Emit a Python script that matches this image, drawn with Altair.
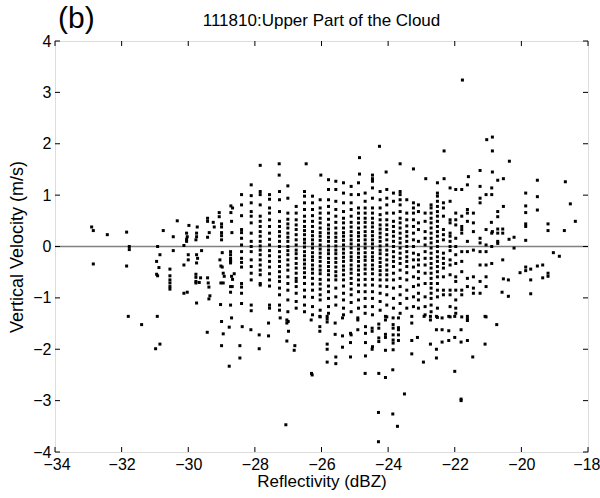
import altair as alt
import pandas as pd

# ---- dense columns of the scatter (reflectivity dBZ -> list of vertical velocities m/s) ----
col_refl = [-28.40, -28.11, -27.84, -27.56, -27.26, -27.01, -26.76, -26.51, -26.27, -26.04,
            -25.79, -25.57, -25.34, -25.11, -24.89, -24.69, -24.47, -24.24, -24.04, -23.84,
            -23.64, -23.44, -23.24, -23.09, -22.89, -22.71, -22.52, -22.34, -22.14, -21.97,
            -21.79, -21.62, -21.44, -21.24, -21.06, -20.89]
col_vel = [
    [1.01, 0.81, 0.60, 0.33, 0.27, 0.16, 0.03, -0.10, -0.23, -0.31, -0.40, -0.72, -0.79, -0.91, -1.11],
    [1.20, 0.99, 0.85, 0.68, 0.59, 0.46, 0.26, 0.10, 0.00, -0.10, -0.26, -0.39, -0.52, -0.65, -1.14, -1.25],
    [1.07, 1.01, 0.81, 0.59, 0.49, 0.39, 0.29, 0.20, 0.10, 0.01, -0.07, -0.16, -0.26, -0.36, -0.46, -0.55, -0.72, -0.75],
    [1.01, 0.92, 0.75, 0.65, 0.52, 0.39, 0.26, 0.14, 0.03, -0.08, -0.18, -0.29, -0.40, -0.53, -0.65, -0.77, -1.14, -1.20],
    [1.07, 0.91, 0.68, 0.49, 0.39, 0.29, 0.20, 0.10, 0.00, -0.10, -0.20, -0.29, -0.39, -0.49, -0.59, -0.68, -0.81, -0.94, -1.14, -1.24],
    [1.18, 0.94, 0.65, 0.53, 0.44, 0.36, 0.26, 0.18, 0.10, 0.00, -0.08, -0.16, -0.26, -0.36, -0.46, -0.59, -0.72, -0.85, -1.04, -1.27],
    [0.78, 0.65, 0.52, 0.42, 0.33, 0.23, 0.13, 0.03, -0.07, -0.14, -0.23, -0.33, -0.42, -0.52, -0.62, -0.68, -0.78, -0.91, -1.07, -1.20],
    [1.07, 0.98, 0.85, 0.72, 0.59, 0.49, 0.39, 0.31, 0.23, 0.14, 0.07, -0.01, -0.10, -0.18, -0.26, -0.34, -0.42, -0.51, -0.60, -0.72, -0.85, -0.98, -1.14, -1.27],
    [0.98, 0.85, 0.72, 0.60, 0.49, 0.39, 0.29, 0.21, 0.13, 0.05, -0.03, -0.12, -0.20, -0.27, -0.36, -0.44, -0.52, -0.62, -0.73, -0.85, -0.99, -1.17, -1.33],
    [0.91, 0.75, 0.65, 0.55, 0.46, 0.36, 0.27, 0.20, 0.12, 0.03, -0.05, -0.13, -0.21, -0.29, -0.38, -0.46, -0.53, -0.64, -0.73, -0.83, -0.94, -1.04, -1.24, -1.37],
    [1.30, 1.11, 0.91, 0.78, 0.65, 0.53, 0.42, 0.34, 0.26, 0.18, 0.10, 0.01, -0.07, -0.14, -0.23, -0.31, -0.39, -0.47, -0.55, -0.65, -0.77, -0.88, -1.01, -1.17, -1.30],
    [1.27, 1.11, 0.88, 0.72, 0.59, 0.47, 0.36, 0.26, 0.18, 0.10, 0.01, -0.07, -0.14, -0.23, -0.31, -0.40, -0.49, -0.57, -0.65, -0.81, -0.98, -1.14],
    [1.24, 1.04, 0.85, 0.68, 0.55, 0.46, 0.36, 0.27, 0.20, 0.12, 0.03, -0.05, -0.13, -0.21, -0.29, -0.38, -0.46, -0.55, -0.65, -0.77, -0.91, -1.04, -1.20, -1.33],
    [1.17, 1.01, 0.85, 0.72, 0.59, 0.47, 0.38, 0.29, 0.21, 0.13, 0.05, -0.03, -0.12, -0.20, -0.27, -0.36, -0.44, -0.52, -0.62, -0.72, -0.83, -0.94, -1.09, -1.27],
    [1.24, 1.01, 0.75, 0.65, 0.55, 0.46, 0.36, 0.27, 0.20, 0.12, 0.03, -0.05, -0.13, -0.21, -0.29, -0.38, -0.46, -0.55, -0.65, -0.75, -0.88, -1.04, -1.20],
    [1.04, 0.88, 0.75, 0.65, 0.55, 0.47, 0.38, 0.29, 0.21, 0.13, 0.05, -0.03, -0.12, -0.20, -0.27, -0.36, -0.44, -0.53, -0.64, -0.75, -0.88, -1.01, -1.17, -1.30],
    [1.27, 1.14, 0.94, 0.75, 0.65, 0.55, 0.46, 0.38, 0.29, 0.21, 0.13, 0.05, -0.03, -0.12, -0.20, -0.27, -0.36, -0.44, -0.53, -0.64, -0.75, -0.88, -1.01, -1.17, -1.33],
    [1.07, 0.91, 0.75, 0.62, 0.52, 0.42, 0.34, 0.26, 0.18, 0.10, 0.01, -0.07, -0.14, -0.23, -0.31, -0.39, -0.47, -0.55, -0.65, -0.77, -0.91, -1.07, -1.24],
    [1.11, 0.94, 0.81, 0.65, 0.52, 0.42, 0.33, 0.23, 0.13, 0.03, -0.07, -0.16, -0.26, -0.36, -0.46, -0.55, -0.65, -0.78, -0.94, -1.14, -1.37],
    [1.04, 0.88, 0.65, 0.49, 0.39, 0.29, 0.20, 0.10, 0.00, -0.10, -0.20, -0.29, -0.39, -0.52, -0.65, -0.81, -1.01, -1.20],
    [1.07, 1.01, 0.91, 0.81, 0.68, 0.55, 0.46, 0.36, 0.26, 0.16, 0.07, -0.03, -0.13, -0.23, -0.33, -0.46, -0.62, -0.78, -0.94, -1.11, -1.30],
    [0.91, 0.65, 0.52, 0.40, 0.29, 0.20, 0.10, 0.00, -0.10, -0.20, -0.29, -0.39, -0.51, -0.65, -0.85, -1.01, -1.20],
    [0.85, 0.75, 0.65, 0.52, 0.39, 0.26, 0.13, 0.00, -0.13, -0.26, -0.40, -0.59, -0.78, -0.98, -1.17],
    [0.81, 0.68, 0.46, 0.33, 0.10, -0.16, -0.26, -0.36, -0.49, -0.62, -0.75, -0.91, -1.04, -1.20],
    [0.65, 0.49, 0.29, 0.16, 0.03, -0.10, -0.23, -0.36, -0.52, -0.72, -0.98, -1.17, -1.33],
    [0.81, 0.75, 0.65, 0.55, 0.46, 0.36, 0.26, 0.16, 0.07, -0.03, -0.13, -0.23, -0.33, -0.42, -0.52, -0.62, -0.72, -0.81, -0.91, -1.01, -1.14, -1.27],
    [1.24, 1.04, 0.98, 0.88, 0.78, 0.68, 0.59, 0.49, 0.39, 0.29, 0.20, 0.10, 0.00, -0.10, -0.20, -0.29, -0.39, -0.49, -0.59, -0.72, -0.85, -0.98, -1.20, -1.38],
    [0.85, 0.75, 0.59, 0.33, 0.23, 0.13, -0.13, -0.23, -0.33, -0.42, -0.59, -0.85, -0.94],
    [1.14, 0.88, 0.52, 0.46, 0.26, 0.20, 0.10, 0.00, -0.08, -0.26, -0.36, -0.55, -0.85, -0.94, -1.17, -1.37],
    [1.11, 0.65, 0.52, 0.42, 0.16, 0.00, -0.16, -0.33, -0.59, -0.68, -0.85, -1.04, -1.20, -1.30],
    [1.11, 0.59, 0.39, 0.33, 0.26, -0.10, -0.29, -0.49, -0.85, -0.94, -1.37],
    [1.20, 0.72, 0.65, 0.49, 0.10, -0.10, -0.62, -0.78],
    [0.65, 0.46, 0.29, -0.07, -0.59, -0.81, -0.91],
    [1.17, 0.94, 0.85, 0.16, 0.07, -0.10, -0.36, -0.68, -0.91],
    [1.01, 0.33, 0.03, -0.10, -0.36, -0.59, -0.78, -1.37],
    [1.14, 1.01, 0.26, 0.00, -0.33],
]

# ---- scattered points outside the dense block (reflectivity, velocity) ----
left_points = [
    (-32.90, 0.38), (-32.85, 0.31), (-32.85, -0.34), (-32.43, 0.23), (-31.85, 0.28), (-31.85, -0.38),
    (-31.77, 0.00), (-31.77, -0.06), (-31.80, -1.36), (-31.40, -1.52), (-30.93, -1.36), (-30.98, -1.99),
    (-30.85, -1.90), (-30.75, 0.31), (-30.92, 0.00), (-30.85, -0.16), (-30.95, -0.29), (-30.88, -0.41),
    (-30.95, -0.54), (-30.92, -0.57), (-30.55, -0.44), (-30.55, -0.57), (-30.55, -0.65), (-30.55, -0.71),
    (-30.55, -0.78), (-30.55, -0.83), (-30.33, 0.50), (-30.45, 0.19), (-30.45, -0.08), (-30.13, 0.02),
    (-30.13, -0.36), (-30.13, -0.91), (-30.03, -0.89), (-30.05, 0.10), (-30.05, 0.14), (-30.03, 0.19),
    (-29.98, 0.41), (-30.05, 0.26), (-30.00, -0.16), (-30.00, -0.26), (-29.75, 0.26), (-29.75, 0.19),
    (-29.77, 0.13), (-29.73, 0.38), (-29.75, -0.16), (-29.72, -0.23), (-29.75, -0.32), (-29.77, -0.54),
    (-29.77, -0.60), (-29.77, -0.68), (-29.77, -0.71), (-29.75, -1.10), (-29.60, -0.08), (-29.63, -0.61),
    (-29.67, -0.70), (-29.42, 0.55), (-29.42, 0.49), (-29.25, 0.47), (-29.22, 0.38), (-29.42, 0.18),
    (-29.37, 0.27), (-29.42, -0.61), (-29.40, -0.71), (-29.38, -0.79), (-29.35, -0.96), (-29.38, -1.02),
    (-29.43, -1.67), (-29.07, 0.66), (-29.07, 0.58), (-29.00, 0.44), (-29.00, 0.38), (-29.00, 0.27),
    (-29.00, 0.21), (-29.00, 0.13), (-28.98, -0.12), (-29.05, -0.26), (-29.02, -0.38), (-28.98, -0.40),
    (-28.95, -0.52), (-29.02, -0.71), (-28.95, -0.71), (-28.92, -0.58), (-29.03, -1.13), (-29.00, -1.46),
    (-28.95, -1.70), (-29.00, -1.93), (-28.72, 0.79), (-28.67, 0.75), (-28.72, 0.66), (-28.70, 0.49),
    (-28.69, 0.27), (-28.73, -0.10), (-28.73, -0.16), (-28.73, -0.23), (-28.73, -0.27), (-28.73, -0.29),
    (-28.73, -0.32), (-28.73, -0.78), (-28.68, -0.78), (-28.73, -0.89), (-28.62, -0.53), (-28.70, -0.58),
    (-28.67, -0.64), (-28.73, -1.14), (-28.70, -1.39), (-28.77, -1.57), (-28.77, -2.33), (-28.45, -1.93),
    (-28.45, -2.17),
]
lower_points = [
    (-28.38, -1.56), (-28.12, -1.62), (-27.87, -1.72), (-27.87, -1.99), (-27.59, -1.49), (-27.59, -1.74),
    (-27.24, -1.39), (-27.04, -1.43), (-27.00, -1.46), (-27.04, -1.49), (-26.99, -1.65), (-27.04, -1.84),
    (-26.80, -1.93), (-26.82, -2.02), (-27.07, -3.47), (-26.31, -1.43), (-26.30, -2.47), (-26.28, -2.50),
    (-26.05, -1.36), (-25.83, -1.36), (-25.83, -1.41), (-25.83, -1.47), (-26.05, -1.56), (-26.05, -1.65),
    (-25.83, -1.90), (-25.83, -2.00), (-25.83, -2.25), (-25.59, -1.49), (-25.59, -1.71), (-25.57, -2.15),
    (-25.57, -2.28), (-25.37, -1.39), (-25.37, -1.74), (-25.37, -1.96), (-25.13, -1.69), (-25.11, -1.72),
    (-25.13, -1.87), (-25.13, -2.15), (-24.91, -1.39), (-24.91, -1.43), (-24.91, -1.62), (-24.68, -1.56),
    (-24.68, -1.69), (-24.68, -1.87), (-24.68, -2.13), (-24.69, -2.47), (-24.48, -1.59), (-24.48, -1.65),
    (-24.47, -1.95), (-24.48, -2.00), (-24.28, -1.51), (-24.28, -1.59), (-24.28, -1.78), (-24.28, -1.85),
    (-24.28, -2.47), (-24.29, -3.23), (-24.29, -3.80), (-24.08, -1.36), (-24.08, -1.43), (-24.08, -1.71),
    (-24.08, -1.77), (-24.08, -2.02), (-24.08, -2.55), (-23.85, -1.39), (-23.85, -1.52), (-23.85, -1.59),
    (-23.85, -1.72), (-23.85, -1.82), (-23.85, -1.88), (-23.85, -2.01), (-23.86, -2.40), (-23.86, -3.26),
    (-23.69, -1.39), (-23.69, -1.58), (-23.69, -1.62), (-23.69, -1.72), (-23.69, -1.83), (-23.72, -3.50),
    (-23.51, -2.87), (-23.29, -1.36), (-23.29, -1.49), (-23.29, -1.83), (-23.29, -2.09), (-23.12, -1.77),
    (-22.92, -1.36), (-22.94, -2.25), (-22.73, -1.36), (-22.73, -1.43), (-22.73, -1.90), (-22.55, -1.36),
    (-22.55, -1.62), (-22.55, -2.00), (-22.55, -2.17), (-22.38, -1.39), (-22.38, -1.62), (-22.38, -1.86),
    (-22.18, -1.36), (-22.18, -1.64), (-22.18, -1.83), (-22.00, -1.36), (-22.00, -1.77), (-22.00, -2.43),
    (-21.81, -1.62), (-21.81, -1.86), (-21.81, -2.97), (-21.81, -3.00), (-21.62, -1.36), (-21.62, -1.41),
    (-21.62, -1.44), (-21.62, -1.83), (-21.46, -2.15), (-21.09, -1.36), (-21.09, -1.90), (-20.74, -1.52),
]
upper_points = [
    (-27.84, 1.58), (-27.27, 1.61), (-27.27, 1.39), (-26.46, 1.61), (-26.02, 1.39), (-24.86, 1.73),
    (-24.86, 1.41), (-24.26, 1.95), (-24.47, 1.39), (-24.47, 1.32), (-24.06, 1.45), (-23.64, 1.61),
    (-23.24, 1.51), (-21.77, 3.24), (-22.87, 1.32), (-22.32, 1.86), (-22.32, 1.32), (-21.59, 1.36),
    (-21.24, 1.48), (-21.04, 2.08), (-20.87, 2.13), (-20.87, 1.86), (-20.87, 1.45), (-20.71, 1.29),
    (-20.54, 1.32), (-20.36, 1.66), (-19.52, 1.29), (-18.68, 1.26),
]
right_points = [
    (-19.87, 1.04), (-19.52, 0.97), (-18.53, 0.83), (-19.87, 0.79), (-19.87, 0.66), (-19.52, 0.71),
    (-18.38, 0.49), (-19.87, 0.44), (-19.87, 0.39), (-19.20, 0.44), (-19.20, 0.31), (-18.71, 0.31),
    (-19.87, 0.12), (-20.22, 0.18), (-20.37, 0.14), (-20.22, -0.03), (-19.04, -0.12), (-18.86, -0.19),
    (-20.04, -0.51), (-19.87, -0.40), (-19.87, -0.47), (-19.72, -0.44), (-19.52, -0.38), (-19.36, -0.36),
    (-19.20, -0.52), (-19.20, -0.58), (-19.36, -0.61), (-19.72, -0.65), (-19.72, -0.92), (-20.39, -0.65),
    (-20.39, -0.97), (-20.56, 0.34), (-20.56, 0.26), (-20.71, 0.68), (-20.71, 0.58), (-20.71, 0.34),
    (-20.71, 0.26), (-20.54, 0.78), (-20.90, 0.47), (-20.87, 0.29), (-20.71, 0.10), (-20.71, 0.06),
    (-20.56, -0.26), (-20.54, -0.63), (-20.58, -0.89),
]

x_ticks = [-34, -32, -30, -28, -26, -24, -22, -20, -18]
y_ticks = [-4, -3, -2, -1, 0, 1, 2, 3, 4]

title_text = "111810:Upper Part of the Cloud"
panel_label = "(b)"
x_title = "Reflectivity (dBZ)"
y_title = "Vertical Velocity (m/s)"

# ---- build table ----
rows = []
for r, vs in zip(col_refl, col_vel):
    for v in vs:
        rows.append({"refl": r, "vel": v})
for group in (left_points, lower_points, upper_points, right_points):
    for r, v in group:
        rows.append({"refl": r, "vel": v})
df = pd.DataFrame(rows)

W, H = 533, 411
FONT = "Liberation Sans"

xscale = alt.Scale(domain=[-34, -18], nice=False, zero=False)
yscale = alt.Scale(domain=[-4, 4], nice=False, zero=False)

points = alt.Chart(df).mark_square(size=9, color="black", opacity=1).encode(
    x=alt.X("refl:Q", scale=xscale,
            axis=alt.Axis(values=x_ticks, title=x_title, ticks=False, domain=False, grid=False,
                          labelPadding=4, titlePadding=1, labelFontSize=16, titleFontSize=17,
                          labelFont=FONT, titleFont=FONT, titleFontWeight="normal",
                          labelColor="black", titleColor="black",
                          labelFlush=True, labelFlushOffset=12)),
    y=alt.Y("vel:Q", scale=yscale,
            axis=alt.Axis(values=y_ticks, title=y_title, ticks=False, domain=False, grid=False,
                          labelPadding=4, titlePadding=6, labelFontSize=16, titleFontSize=18,
                          labelFont=FONT, titleFont=FONT, titleFontWeight="normal",
                          labelColor="black", titleColor="black", labelFlush=False)),
)

zero_df = pd.DataFrame({"v": [0]})
zero_line = alt.Chart(zero_df).mark_rule(color="#808080", strokeWidth=1.5).encode(
    y=alt.Y("v:Q", scale=yscale), x=alt.value(0), x2=alt.value(W)
)

xt = pd.DataFrame({"t": x_ticks})
yt = pd.DataFrame({"t": y_ticks})
tick_style = dict(color="black", strokeWidth=1)
xt_bottom = alt.Chart(xt).mark_rule(**tick_style).encode(
    x=alt.X("t:Q", scale=xscale), y=alt.value(H - 5), y2=alt.value(H))
xt_top = alt.Chart(xt).mark_rule(**tick_style).encode(
    x=alt.X("t:Q", scale=xscale), y=alt.value(0), y2=alt.value(5))
yt_left = alt.Chart(yt).mark_rule(**tick_style).encode(
    y=alt.Y("t:Q", scale=yscale), x=alt.value(0), x2=alt.value(5))
yt_right = alt.Chart(yt).mark_rule(**tick_style).encode(
    y=alt.Y("t:Q", scale=yscale), x=alt.value(W - 5), x2=alt.value(W))

label_df = pd.DataFrame({"s": [panel_label]})
label = alt.Chart(label_df).mark_text(
    align="left", baseline="alphabetic", fontSize=30, font=FONT, color="black"
).encode(text="s:N", x=alt.value(3), y=alt.value(-13))

title_df = pd.DataFrame({"s": [title_text]})
title = alt.Chart(title_df).mark_text(
    align="center", baseline="alphabetic", fontSize=17, font=FONT, color="black"
).encode(text="s:N", x=alt.value(W / 2), y=alt.value(-15))

chart = alt.layer(zero_line, points, xt_bottom, xt_top, yt_left, yt_right, label, title).properties(
    width=W, height=H,
    autosize=alt.AutoSizeParams(type="none"),
    padding={"left": 55, "top": 41, "right": 12, "bottom": 46},
).configure_view(stroke="black", strokeWidth=1).configure(background="white")

chart.save("out.html", embed_options={"renderer": "svg", "actions": False})
